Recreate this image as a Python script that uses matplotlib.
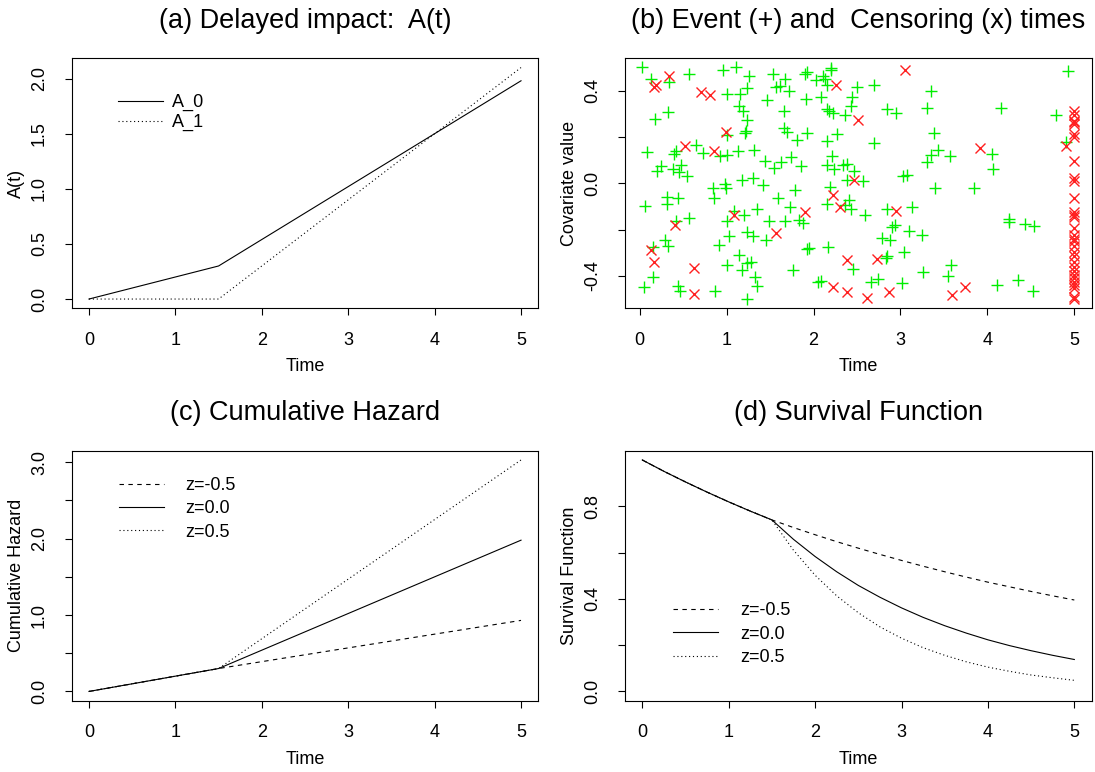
import matplotlib
matplotlib.use("Agg")
import matplotlib.pyplot as plt

plt.rcParams['font.family'] = ['Liberation Sans', 'DejaVu Sans']
plt.rcParams['lines.scale_dashes'] = False

# ---------------- data ----------------
t_knots = [0.0, 1.5, 5.0]
A0_vals = [0.0, 0.30, 1.98]
A1_vals = [0.0, 0.00, 2.10]

H_neg = [0.0, 0.30, 0.93]
H_zero = [0.0, 0.30, 1.98]
H_pos = [0.0, 0.30, 3.03]

t_grid = [0.0, 0.25, 0.5, 0.75, 1.0, 1.25, 1.5, 1.75, 2.0, 2.25, 2.5, 2.75, 3.0,
          3.25, 3.5, 3.75, 4.0, 4.25, 4.5, 4.75, 5.0]
S_neg = [1.0, 0.951, 0.905, 0.861, 0.819, 0.779, 0.741, 0.708, 0.677, 0.647, 0.619,
         0.592, 0.566, 0.541, 0.517, 0.494, 0.472, 0.452, 0.432, 0.413, 0.395]
S_zero = [1.0, 0.951, 0.905, 0.861, 0.819, 0.779, 0.741, 0.657, 0.583, 0.517, 0.458,
          0.407, 0.361, 0.320, 0.284, 0.252, 0.223, 0.198, 0.176, 0.156, 0.138]
S_pos = [1.0, 0.951, 0.905, 0.861, 0.819, 0.779, 0.741, 0.610, 0.502, 0.413, 0.340,
         0.279, 0.230, 0.189, 0.156, 0.128, 0.105, 0.087, 0.071, 0.059, 0.048]

event_time = [0.03, 0.13, 0.34, 0.57, 0.96, 1.11, 1.26, 1.53, 1.57, 1.23,
              1.15, 1.01, 1.47, 1.14, 1.19, 1.23, 0.33, 0.18, 1.22, 1.21,
              1.00, 0.65, 0.73, 0.92, 1.00, 1.13, 1.32, 1.44, 1.54, 0.08,
              0.40, 0.42, 0.25, 0.20, 0.38, 0.48, 0.45, 0.54, 1.18, 1.30, 0.98,
              1.67, 1.90, 1.93, 2.20, 2.20, 2.03, 2.11, 2.13, 2.15, 1.61,
              1.72, 2.50, 2.69, 2.44, 2.09, 1.91, 2.43, 1.66, 2.15, 2.18,
              2.22, 2.36, 2.84, 2.95, 3.30, 1.66, 1.70, 1.92, 1.81, 2.27,
              2.16, 2.69, 1.74, 1.63, 1.86, 2.21, 2.15, 2.23, 2.34, 2.39,
              2.47, 3.30, 3.03, 3.07, 2.38, 2.57,
              4.93, 3.35, 4.16, 4.79, 3.39, 3.43, 3.35, 3.57, 4.05, 4.06, 4.90,
              0.06, 0.31, 0.31, 0.44, 0.84, 0.85, 0.99, 1.42, 1.59, 0.57,
              0.42, 1.09, 1.01, 1.20, 1.35, 1.49, 1.03, 1.24, 1.30, 1.45,
              0.29, 0.33, 0.15, 0.91, 1.14, 1.01, 1.23, 1.28, 1.18, 1.33,
              1.35, 0.15, 0.05, 0.44, 0.46, 0.87, 1.24,
              2.19, 1.79, 1.73, 2.16, 2.41, 2.43, 2.36, 2.59, 2.85, 3.13,
              1.67, 1.83, 1.88, 2.90, 2.94, 3.10, 3.25, 2.79, 2.88, 1.92,
              1.95, 2.17, 2.83, 2.85, 3.04, 2.45, 1.76, 3.26, 2.05, 2.09,
              2.66, 2.74, 3.02,
              3.40, 3.85, 4.25, 4.25, 4.43, 4.54, 3.58, 3.55, 4.11, 4.35, 4.53]
event_cov = [0.503, 0.452, 0.438, 0.474, 0.491, 0.503, 0.462, 0.474, 0.416, 0.412,
             0.387, 0.384, 0.361, 0.333, 0.312, 0.274, 0.310, 0.278, 0.225, 0.216,
             0.210, 0.167, 0.133, 0.119, 0.122, 0.138, 0.143, 0.097, 0.065, 0.136,
             0.126, 0.140, 0.075, 0.053, 0.061, 0.080, 0.047, 0.032, 0.013, 0.025, -0.004,
             0.452, 0.474, 0.481, 0.500, 0.488, 0.445, 0.462, 0.452, 0.423, 0.420,
             0.397, 0.416, 0.426, 0.373, 0.373, 0.365, 0.336, 0.314, 0.322, 0.312,
             0.304, 0.293, 0.322, 0.304, 0.325, 0.239, 0.220, 0.217, 0.187, 0.213,
             0.181, 0.174, 0.112, 0.090, 0.075, 0.116, 0.078, 0.061, 0.078, 0.083,
             0.053, 0.090, 0.032, 0.036, 0.013, 0.010,
             0.486, 0.397, 0.326, 0.293, 0.217, 0.145, 0.122, 0.116, 0.126, 0.061, 0.177,
             -0.096, -0.060, -0.091, -0.062, -0.022, -0.062, -0.019, -0.007, -0.062, -0.149,
             -0.164, -0.120, -0.164, -0.138, -0.110, -0.161, -0.226, -0.210, -0.229, -0.243,
             -0.243, -0.270, -0.277, -0.265, -0.309, -0.355, -0.345, -0.340, -0.374, -0.403,
             -0.443, -0.406, -0.447, -0.443, -0.464, -0.464, -0.500,
             -0.016, -0.030, -0.101, -0.091, -0.074, -0.110, -0.094, -0.135, -0.110, -0.101,
             -0.161, -0.157, -0.171, -0.190, -0.181, -0.204, -0.225, -0.236, -0.245, -0.283,
             -0.280, -0.275, -0.323, -0.316, -0.297, -0.371, -0.374, -0.384, -0.427, -0.422,
             -0.425, -0.414, -0.429,
             -0.019, -0.022, -0.153, -0.168, -0.174, -0.183, -0.355, -0.400, -0.439, -0.417, -0.465]

cens_time = [0.34, 0.19, 0.17, 0.71, 0.81, 0.99, 0.52, 0.85, 2.26, 3.05,
             2.51, 2.47, 3.92, 4.90, 1.08, 0.41, 0.13, 0.16, 0.63, 0.63,
             1.57, 2.22, 2.30, 1.90, 2.95, 2.39, 2.73, 2.22, 2.38, 2.62,
             2.87, 3.74, 3.59,
             5.0, 5.0, 5.0, 5.0, 5.0, 5.0, 5.0, 5.0, 5.0, 5.0,
             5.0, 5.0, 5.0, 5.0, 5.0, 5.0, 5.0, 5.0, 5.0, 5.0,
             5.0, 5.0, 5.0, 5.0, 5.0, 5.0, 5.0, 5.0, 5.0, 5.0, 5.0]
cens_cov = [0.462, 0.423, 0.416, 0.394, 0.383, 0.220, 0.160, 0.138, 0.426, 0.491,
            0.274, 0.013, 0.151, 0.162, -0.135, -0.178, -0.290, -0.340, -0.364, -0.480,
            -0.214, -0.051, -0.101, -0.123, -0.120, -0.330, -0.326, -0.449, -0.468, -0.494,
            -0.468, -0.447, -0.483,
            0.314, 0.293, 0.271, 0.264, 0.257, 0.213, 0.201, 0.097, 0.025, 0.010,
            -0.065, -0.123, -0.138, -0.147, -0.193, -0.222, -0.239, -0.251, -0.273, -0.297,
            -0.313, -0.340, -0.360, -0.381, -0.396, -0.410, -0.425, -0.439, -0.453, -0.490, -0.500]

x_ticks = [0, 1, 2, 3, 4, 5]

# ---------------- figure ----------------
W, H = 1095, 772
fig = plt.figure(figsize=(W / 100, H / 100), dpi=100)


def add_ax(l, t, r, b):
    return fig.add_axes([l / W, 1 - b / H, (r - l) / W, (b - t) / H])


FS = 13
TFS = 19.5
LW = 0.8
DASHED = (0, (3.2, 3.2))
DOTTED = (0, (0.8, 2.0))


def style(ax, title, xlabel, ylabel, yticks, ylabels):
    for s in ax.spines.values():
        s.set_linewidth(LW)
        s.set_color('black')
    ax.set_xticks(x_ticks)
    ax.set_xticklabels([str(v) for v in x_ticks])
    ax.set_yticks(yticks)
    ax.set_yticklabels(ylabels, rotation=90, va='center')
    ax.tick_params(direction='out', length=5, width=LW, labelsize=FS, pad=12, colors='black')
    ax.set_title(title, fontsize=TFS, pad=22)
    ax.set_xlabel(xlabel, fontsize=FS)
    ax.set_ylabel(ylabel, fontsize=FS)
    ax.xaxis.set_label_coords(0.5, -0.2)
    ax.yaxis.set_label_coords(-0.1, 0.5)


# (a)
axA = add_ax(71.7, 58.3, 538.3, 308.3)
axA.plot(t_knots, A0_vals, color='black', lw=LW, label='A_0')
axA.plot(t_knots, A1_vals, color='black', lw=LW, linestyle=DOTTED, label='A_1')
axA.set_xlim(-0.2, 5.2)
axA.set_ylim(-0.084, 2.184)
style(axA, '(a) Delayed impact:  A(t)', 'Time', 'A(t)',
      [0, 0.5, 1.0, 1.5, 2.0], ['0.0', '0.5', '1.0', '1.5', '2.0'])
axA.legend(loc='upper left', bbox_to_anchor=(0.099, 0.857), frameon=False,
           fontsize=FS, handlelength=2.5, handletextpad=0.5, labelspacing=0.15,
           borderpad=0, borderaxespad=0)

# (b)
axB = add_ax(625, 58.3, 1091.6, 308.3)
axB.plot(event_time, event_cov, linestyle='none', marker='+', ms=9.2, mew=1.0,
         color='#00ee00')
axB.plot(cens_time, cens_cov, linestyle='none', marker='x', ms=7.4, mew=1.0,
         color='#ff2020')
axB.set_xlim(-0.169, 5.199)
axB.set_ylim(-0.54, 0.54)
style(axB, '(b) Event (+) and  Censoring (x) times', 'Time', 'Covariate value',
      [-0.4, -0.2, 0.0, 0.2, 0.4], ['-0.4', '', '0.0', '', '0.4'])

# (c)
axC = add_ax(71.7, 450.7, 538.3, 700.7)
axC.plot(t_knots, H_neg, color='black', lw=LW, linestyle=DASHED, label='z=-0.5')
axC.plot(t_knots, H_zero, color='black', lw=LW, label='z=0.0')
axC.plot(t_knots, H_pos, color='black', lw=LW, linestyle=DOTTED, label='z=0.5')
axC.set_xlim(-0.2, 5.2)
axC.set_ylim(-0.1212, 3.1512)
style(axC, '(c) Cumulative Hazard', 'Time', 'Cumulative Hazard',
      [0, 0.5, 1.0, 1.5, 2.0, 2.5, 3.0], ['0.0', '', '1.0', '', '2.0', '', '3.0'])
axC.legend(loc='upper left', bbox_to_anchor=(0.101, 0.895), frameon=False,
           fontsize=FS, handlelength=2.5, handletextpad=1.2, labelspacing=0.35,
           borderpad=0, borderaxespad=0)

# (d)
axD = add_ax(625, 450.7, 1091.6, 700.7)
axD.plot(t_grid, S_neg, color='black', lw=LW, linestyle=DASHED, label='z=-0.5')
axD.plot(t_grid, S_zero, color='black', lw=LW, label='z=0.0')
axD.plot(t_grid, S_pos, color='black', lw=LW, linestyle=DOTTED, label='z=0.5')
axD.set_xlim(-0.2, 5.2)
axD.set_ylim(-0.04, 1.04)
style(axD, '(d) Survival Function', 'Time', 'Survival Function',
      [0, 0.2, 0.4, 0.6, 0.8], ['0.0', '', '0.4', '', '0.8'])
axD.legend(loc='upper left', bbox_to_anchor=(0.103, 0.394), frameon=False,
           fontsize=FS, handlelength=2.5, handletextpad=1.2, labelspacing=0.35,
           borderpad=0, borderaxespad=0)

fig.savefig('out.png', dpi=100)
